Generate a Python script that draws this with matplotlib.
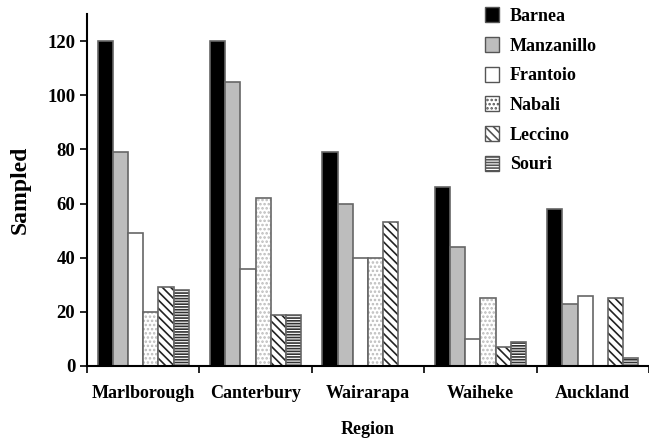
import numpy as np
import matplotlib
matplotlib.use("Agg")
import matplotlib.pyplot as plt

plt.rcParams['font.family'] = ['Liberation Serif', 'DejaVu Serif']
plt.rcParams['font.weight'] = 'bold'
plt.rcParams['hatch.linewidth'] = 1.2

regions = ['Marlborough', 'Canterbury', 'Wairarapa', 'Waiheke', 'Auckland']
cultivars = ['Barnea', 'Manzanillo', 'Frantoio', 'Nabali', 'Leccino', 'Souri']

barnea = [120, 120, 79, 66, 58]
manzanillo = [79, 105, 60, 44, 23]
frantoio = [49, 36, 40, 10, 26]
nabali = [20, 62, 40, 25, 0]
leccino = [29, 19, 53, 7, 25]
souri = [28, 19, 0, 9, 3]

series = [barnea, manzanillo, frantoio, nabali, leccino, souri]
faces = ['black', '#bdbdbd', 'white', 'white', 'white', 'white']
hatches = [None, None, None, '....', '\\\\\\\\', '------']
hatch_cols = ['black', '#555555', '#555555', '#bbbbbb', '#222222', '#333333']

fig = plt.figure(figsize=(6.49, 4.41), dpi=100)
ax = fig.add_axes([87/649, 75/441, 1 - 87/649, 352/441])

x = np.arange(len(regions))
w = 0.135
for i, (vals, name) in enumerate(zip(series, cultivars)):
    pos = x + (i - 2.5) * w
    ax.bar(pos, vals, width=w, facecolor=faces[i], edgecolor=hatch_cols[i],
           hatch=hatches[i], linewidth=0, label=name)
    # outline drawn separately in gray
    ax.bar(pos, [v if v > 0 else np.nan for v in vals], width=w, facecolor='none',
           edgecolor='#666666', linewidth=1.2)

ax.set_xlim(-0.5, 4.47)
ax.set_ylim(0, 130)
ax.set_yticks(range(0, 121, 20))
ax.set_xticks(x)
ax.set_xticklabels(regions)
ax.set_xticks(np.arange(-0.5, 4.6, 1.0), minor=True)
ax.tick_params(axis='x', which='major', length=0, pad=14, labelsize=13)
ax.tick_params(axis='x', which='minor', length=5, width=1.2, direction='out')
ax.tick_params(axis='y', length=5, width=1.2, direction='out', labelsize=13.5)

for s in ['top', 'right']:
    ax.spines[s].set_visible(False)
for s in ['left', 'bottom']:
    ax.spines[s].set_linewidth(1.5)

ax.set_ylabel('Sampled', fontsize=17, fontweight='bold', labelpad=12)
ax.set_xlabel('Region', fontsize=13, fontweight='bold', labelpad=13)

handles, labels = ax.get_legend_handles_labels()
leg = ax.legend(handles, labels, loc='upper left', bbox_to_anchor=(0.68, 1.065),
                frameon=False, fontsize=13, handlelength=0.75, handleheight=0.9,
                handletextpad=0.6, labelspacing=0.66)
for h in leg.legend_handles:
    h.set_linewidth(1.0)
    h.set_edgecolor('#555555')

fig.savefig('out.png', dpi=100)
